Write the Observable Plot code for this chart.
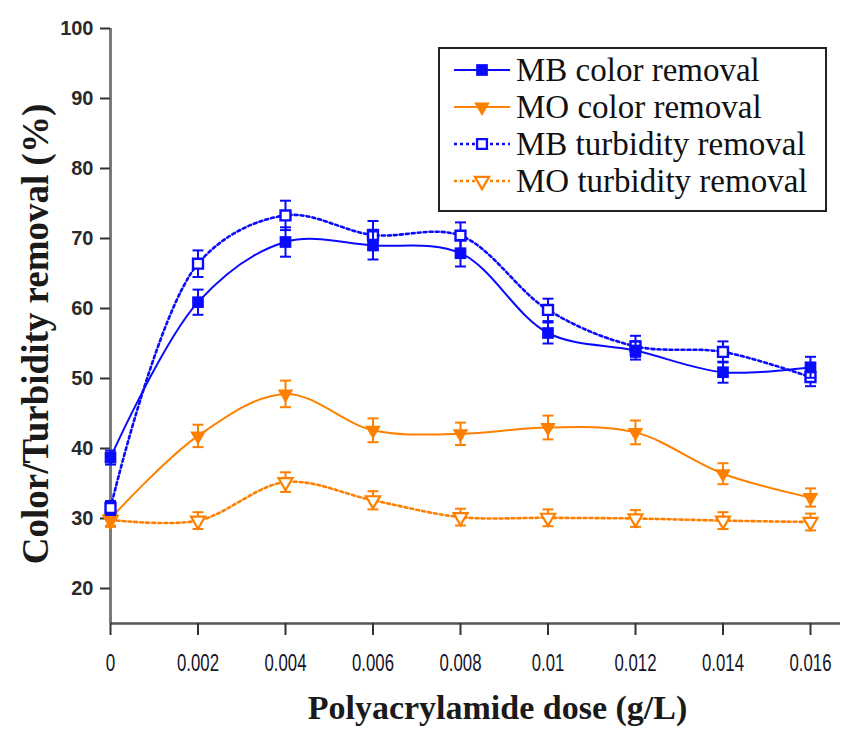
<!DOCTYPE html>
<html>
<head>
<meta charset="utf-8">
<script src="https://cdn.jsdelivr.net/npm/d3@7"></script>
<script src="https://cdn.jsdelivr.net/npm/@observablehq/plot@0.6"></script>
<style>
  body { margin: 0; background: #fff; }
  #wrap { position: relative; width: 844px; height: 731px; }
  #legend { position: absolute; left: 438px; top: 47px; width: 385px; height: 161px;
            border: 2px solid #222; background: #fff; }
</style>
</head>
<body>
<div id="wrap"><div id="legend"></div></div>
<script>
// ---- data ----
const doses = [0, 0.002, 0.004, 0.006, 0.008, 0.010, 0.012, 0.014, 0.016];
const xTickLabels = ["0", "0.002", "0.004", "0.006", "0.008", "0.01", "0.012", "0.014", "0.016"];
const yTicks = [20, 30, 40, 50, 60, 70, 80, 90, 100];

const seriesNames = ["MB color removal", "MO color removal", "MB turbidity removal", "MO turbidity removal"];

const mbColor    = [38.7, 60.9, 69.5, 69.0, 67.9, 56.5, 54.0, 50.9, 51.6];
const mbColorErr = [1.0, 1.8, 2.1, 2.0, 1.9, 1.5, 1.3, 1.5, 1.5];
const moColor    = [30.0, 41.8, 47.8, 42.6, 42.1, 43.0, 42.3, 36.4, 33.0];
const moColorErr = [1.0, 1.6, 1.9, 1.7, 1.6, 1.7, 1.7, 1.5, 1.3];
const mbTurb     = [31.5, 66.4, 73.3, 70.5, 70.4, 59.8, 54.6, 53.8, 50.2];
const mbTurbErr  = [1.0, 1.9, 2.1, 2.0, 1.9, 1.6, 1.5, 1.5, 1.3];
const moTurb     = [29.8, 29.7, 35.2, 32.6, 30.2, 30.1, 30.0, 29.7, 29.5];
const moTurbErr  = [1.0, 1.2, 1.4, 1.3, 1.2, 1.2, 1.2, 1.2, 1.2];

const xTitle = "Polyacrylamide dose (g/L)";
const yTitle = "Color/Turbidity removal (%)";

// ---- build tables ----
function rows(vals, errs) {
  return doses.map((x, i) => ({x, y: vals[i], e: errs[i]}));
}
const BLUE = "#0a0aff", ORANGE = "#ff8000";
const capSymbol = {
  draw(ctx, size) { const w = Math.sqrt(size / Math.PI); ctx.moveTo(-w, 0); ctx.lineTo(w, 0); }
};
const series = [
  {name: seriesNames[3], data: rows(moTurb, moTurbErr), color: ORANGE, dash: "3,3", symbol: "triangle", filled: false},
  {name: seriesNames[1], data: rows(moColor, moColorErr), color: ORANGE, dash: null, symbol: "triangle", filled: true},
  {name: seriesNames[2], data: rows(mbTurb, mbTurbErr), color: BLUE, dash: "3,3", symbol: "square", filled: false},
  {name: seriesNames[0], data: rows(mbColor, mbColorErr), color: BLUE, dash: null, symbol: "square", filled: true}
];

const marks = [
  Plot.ruleX([0], {stroke: "#7a7a7a", strokeWidth: 3}),
  Plot.ruleY([15], {stroke: "#555", strokeWidth: 2.5}),
  Plot.axisY(yTicks, {tickSize: 10, tickPadding: 7, stroke: "#333", strokeWidth: 2,
    fontSize: 20, fontWeight: "bold", fontFamily: "Liberation Sans, Arial, sans-serif", fill: "#2a2a2a", label: null}),
  Plot.axisX(doses, {tickSize: 12, tickPadding: 18, stroke: "#333", strokeWidth: 2,
    tickFormat: (d, i) => xTickLabels[i],
    fontSize: 24, fontFamily: "Liberation Sans, Arial, sans-serif", fill: "#15152a", label: null}),
  Plot.text([xTitle], {frameAnchor: "bottom", dx: 22, dy: 95, fontSize: 34, fontWeight: "bold",
    fontFamily: "Liberation Serif, Times New Roman, serif", fill: "#1a1a1a"}),
  Plot.text([yTitle], {frameAnchor: "left", textAnchor: "middle", rotate: -90, dx: -74, dy: 8, fontSize: 37, fontWeight: "bold",
    fontFamily: "Liberation Serif, Times New Roman, serif", fill: "#1a1a1a"})
];

for (const s of series) {
  marks.push(Plot.line(s.data, {x: "x", y: "y", curve: "catmull-rom", stroke: s.color,
    strokeWidth: s.dash ? 2.6 : 2, strokeDasharray: s.dash}));
  marks.push(Plot.ruleX(s.data, {x: "x", y1: d => d.y - d.e, y2: d => d.y + d.e, stroke: s.color, strokeWidth: 2}));
  marks.push(Plot.dot(s.data, {x: "x", y: d => d.y - d.e, symbol: capSymbol, r: 5.5, fill: "none", stroke: s.color, strokeWidth: 2}));
  marks.push(Plot.dot(s.data, {x: "x", y: d => d.y + d.e, symbol: capSymbol, r: 5.5, fill: "none", stroke: s.color, strokeWidth: 2}));
  if (s.symbol === "square") {
    marks.push(Plot.dot(s.data, {x: "x", y: "y", symbol: "square", r: s.filled ? 6.6 : 5.6,
      fill: s.filled ? s.color : "white", stroke: s.color, strokeWidth: s.filled ? 0 : 2.4}));
  } else {
    marks.push(Plot.dot(s.data, {x: "x", y: "y", symbol: "triangle", rotate: 180, r: s.filled ? 5.8 : 5.2,
      fill: s.filled ? s.color : "white", stroke: s.color, strokeWidth: s.filled ? 0 : 2.2}));
  }
}

const chart = Plot.plot({
  width: 844, height: 731,
  marginLeft: 110, marginTop: 28, marginRight: 4, marginBottom: 108,
  x: {domain: [0, 0.016686]},
  y: {domain: [15, 100]},
  style: {background: "white", overflow: "visible"},
  marks
});
document.getElementById("wrap").prepend(chart);

// condensed x tick labels as in the reference
d3.select(chart).selectAll('g[aria-label="x-axis tick label"] text').each(function() {
  const t = this.textContent;
  let w = 0;
  for (const c of t) w += (c === ".") ? 4 : 9.5;
  d3.select(this).attr("textLength", w).attr("lengthAdjust", "spacingAndGlyphs");
});

// ---- legend (HTML overlay inside plot area) ----
const legendOrder = [
  {name: seriesNames[0], color: BLUE, dash: null, symbol: d3.symbolSquare, filled: true},
  {name: seriesNames[1], color: ORANGE, dash: null, symbol: d3.symbolTriangle, filled: true},
  {name: seriesNames[2], color: BLUE, dash: "3,3", symbol: d3.symbolSquare, filled: false},
  {name: seriesNames[3], color: ORANGE, dash: "3,3", symbol: d3.symbolTriangle, filled: false}
];
const lg = d3.select("#legend").append("svg").attr("width", 385).attr("height", 161);
legendOrder.forEach((s, i) => {
  const cy = 21 + i * 37;
  lg.append("line").attr("x1", 14).attr("x2", 70).attr("y1", cy).attr("y2", cy)
    .attr("stroke", s.color).attr("stroke-width", s.dash ? 2.6 : 2).attr("stroke-dasharray", s.dash);
  const isSq = s.symbol === d3.symbolSquare;
  const size = isSq ? (s.filled ? 137 : 98) : (s.filled ? 106 : 85);
  lg.append("path").attr("d", d3.symbol(s.symbol, size)())
    .attr("transform", `translate(42,${cy})` + (isSq ? "" : " rotate(180)"))
    .attr("fill", s.filled ? s.color : "white").attr("stroke", s.color)
    .attr("stroke-width", s.filled ? 0 : 2.3);
  lg.append("text").attr("x", 76).attr("y", cy + 11).text(s.name)
    .attr("font-family", "Liberation Serif, Times New Roman, serif").attr("font-size", 33).attr("fill", "#111");
});
</script>
</body>
</html>
